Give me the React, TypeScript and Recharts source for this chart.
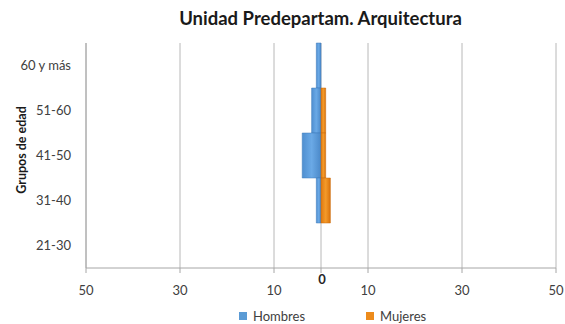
import { Bar, BarChart, CartesianGrid, XAxis, YAxis } from "recharts";

const groups = ["60 y más", "51-60", "41-50", "31-40", "21-30"];
const hombres = [1, 2, 4, 1, 0];
const mujeres = [0, 1, 1, 2, 0];
const xTicks = [-50, -30, -10, 0, 10, 30, 50];

const data = groups.map((g, i) => ({ group: g, Hombres: -hombres[i], Mujeres: mujeres[i] }));

const FONT = "Lato, 'Open Sans', sans-serif";

function XTick(props: any) {
  const { x, y, payload } = props;
  if (payload.value === 0) {
    return (
      <text x={x + 1} y={y + 9} textAnchor="middle" fontSize={13} fontWeight={700} fill="#262626" fontFamily={FONT}>
        0
      </text>
    );
  }
  return (
    <text x={x} y={y + 20} textAnchor="middle" fontSize={13} fill="#404040" fontFamily={FONT}>
      {Math.abs(payload.value)}
    </text>
  );
}

function YTitle() {
  return (
    <text
      transform="translate(21,150) rotate(-90)"
      textAnchor="middle"
      dominantBaseline="central"
      fontSize={12.5}
      fontWeight={700}
      fill="#1a1a1a"
      fontFamily={FONT}
    >
      Grupos de edad
    </text>
  );
}

export default function App() {
  return (
    <div style={{ position: "absolute", left: 0, top: 0, width: 565, height: 324, background: "#fff", fontFamily: FONT }}>
      <div
        style={{
          position: "absolute",
          top: 7,
          left: 0,
          width: 641,
          textAlign: "center",
          fontSize: 18.5,
          fontWeight: 700,
          color: "#1a1a1a",
        }}
      >
        Unidad Predepartam. Arquitectura
      </div>
      <BarChart
        width={565}
        height={324}
        data={data}
        layout="vertical"
        stackOffset="sign"
        barCategoryGap={0}
        margin={{ top: 43, right: 9, bottom: 0, left: 0 }}
      >
        <defs>
          <linearGradient id="gBlue" x1="0" y1="0" x2="1" y2="0">
            <stop offset="0%" stopColor="#4f8fd0" />
            <stop offset="50%" stopColor="#6aa9e6" />
            <stop offset="100%" stopColor="#4a88c8" />
          </linearGradient>
          <linearGradient id="gOrange" x1="0" y1="0" x2="1" y2="0">
            <stop offset="0%" stopColor="#e07a10" />
            <stop offset="50%" stopColor="#f39a2a" />
            <stop offset="100%" stopColor="#d9720c" />
          </linearGradient>
        </defs>
        <CartesianGrid horizontal={false} stroke="#b8b8b8" />
        <XAxis
          type="number"
          domain={[-50, 50]}
          ticks={xTicks}
          tick={<XTick />}
          tickSize={5}
          stroke="#a6a6a6"
          height={56}
          interval={0}
        />
        <YAxis
          type="category"
          dataKey="group"
          width={86}
          tickLine={false}
          stroke="#a6a6a6"
          tickMargin={9}
          tick={{ fontSize: 13, fill: "#404040", fontFamily: FONT }}
          label={{ content: () => <YTitle /> }}
        />
        <Bar dataKey="Hombres" stackId="s" fill="url(#gBlue)" stroke="#3f7bbb" strokeWidth={0.5} isAnimationActive={false} />
        <Bar dataKey="Mujeres" stackId="s" fill="url(#gOrange)" stroke="#c8690a" strokeWidth={0.5} isAnimationActive={false} />
      </BarChart>
      <div style={{ position: "absolute", top: 308, left: 239, display: "flex", alignItems: "center", fontSize: 13, color: "#404040" }}>
        <span style={{ width: 8, height: 8, background: "#5b9bd5", display: "inline-block", marginRight: 6 }} />
        Hombres
        <span style={{ width: 8, height: 8, background: "#ed8b1c", display: "inline-block", marginLeft: 61, marginRight: 6 }} />
        Mujeres
      </div>
    </div>
  );
}
